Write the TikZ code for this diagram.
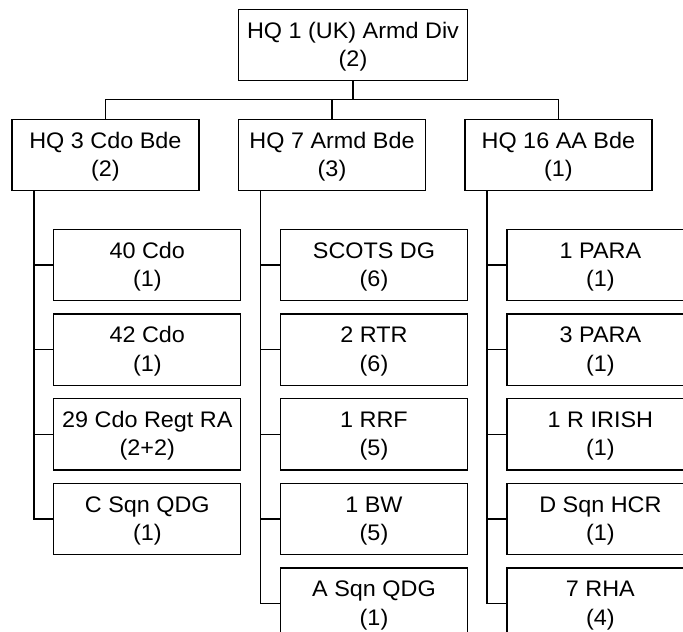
\documentclass[tikz,border=0pt]{standalone}
\usepackage{fontspec}
\setmainfont{Liberation Sans}
\newfontfamily\boxfont[FakeStretch=1.04]{Liberation Sans}
\usetikzlibrary{calc}
\begin{document}
\begin{tikzpicture}[x=1pt,y=-1pt,
  unit/.style={draw, rectangle, line width=1.3pt, inner sep=0pt,
    minimum width=187pt, minimum height=71.4pt, align=center,
    font=\boxfont\fontsize{22.5}{28.5}\selectfont,
    text height=43pt, text depth=0pt},
  link/.style={line width=1.3pt}]
\useasboundingbox (0,0) rectangle (683,632);
\fill[white] (0,0) rectangle (683,632);
\clip (0,0) rectangle (683,632);
% top
\node[unit, minimum width=229pt] (top) at (353,45) {HQ 1 (UK) Armd Div\\(2)};
% brigades
\node[unit] (l) at (105.4,155) {HQ 3 Cdo Bde\\(2)};
\node[unit] (m) at (332,155) {HQ 7 Armd Bde\\(3)};
\node[unit] (r) at (558.4,155) {HQ 16 AA Bde\\(1)};
% left children
\node[unit] (l1) at (147.3,265) {40 Cdo\\(1)};
\node[unit] (l2) at (147.3,349.7) {42 Cdo\\(1)};
\node[unit] (l3) at (147.3,434.3) {29 Cdo Regt RA\\(2+2)};
\node[unit] (l4) at (147.3,519) {C Sqn QDG\\(1)};
% middle children
\node[unit] (m1) at (374,265) {SCOTS DG\\(6)};
\node[unit] (m2) at (374,349.7) {2 RTR\\(6)};
\node[unit] (m3) at (374,434.3) {1 RRF\\(5)};
\node[unit] (m4) at (374,519) {1 BW\\(5)};
\node[unit] (m5) at (374,603.7) {A Sqn QDG\\(1)};
% right children
\node[unit] (r1) at (600.4,265) {1 PARA\\(1)};
\node[unit] (r2) at (600.4,349.7) {3 PARA\\(1)};
\node[unit] (r3) at (600.4,434.3) {1 R IRISH\\(1)};
\node[unit] (r4) at (600.4,519) {D Sqn HCR\\(1)};
\node[unit] (r5) at (600.4,603.7) {7 RHA\\(4)};
% bus
\coordinate (bus) at (353,99.5);
\draw[link] (top.south) -- (bus);
\draw[link] (l.north) |- (bus) -| (r.north);
\draw[link] (m.north) -- (m.north |- bus);
% trunks
\coordinate (lt) at ($(l.south west)+(22.8,0)$);
\coordinate (mt) at ($(m.south west)+(22.8,0)$);
\coordinate (rt) at ($(r.south west)+(22.8,0)$);
\foreach \c in {l1,l2,l3,l4} \draw[link] (lt) |- (\c.west);
\foreach \c in {m1,m2,m3,m4,m5} \draw[link] (mt) |- (\c.west);
\foreach \c in {r1,r2,r3,r4,r5} \draw[link] (rt) |- (\c.west);
\end{tikzpicture}
\end{document}
